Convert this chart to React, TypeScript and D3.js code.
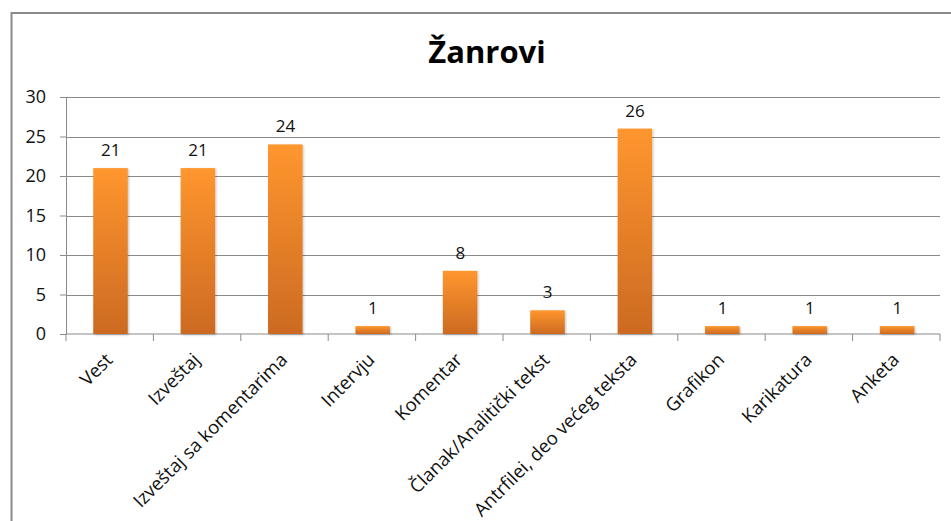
import React, { useEffect, useRef } from 'react';
import * as d3 from 'd3';

// Žanrovi - column chart

const categories = [
  'Vest',
  'Izveštaj',
  'Izveštaj sa komentarima',
  'Intervju',
  'Komentar',
  'Članak/Analitički tekst',
  'Antrfilei, deo većeg teksta',
  'Grafikon',
  'Karikatura',
  'Anketa',
];
const counts = [21, 21, 24, 1, 8, 3, 26, 1, 1, 1];
const yTicks = [0, 5, 10, 15, 20, 25, 30];
const title = 'Žanrovi';

const App = () => {
  const svgRef = useRef<SVGSVGElement>(null);

  useEffect(() => {
    if (!svgRef.current) return;
    const svg = d3.select(svgRef.current);
    svg.selectAll('*').remove();

    const width = 951;
    const height = 521;
    const margin = { top: 97, right: 11, bottom: 187, left: 66 };
    const font = "'Open Sans', sans-serif";

    // gradient for the bars
    const defs = svg.append('defs');
    const grad = defs.append('linearGradient')
      .attr('id', 'barGrad')
      .attr('x1', 0).attr('y1', 0).attr('x2', 0).attr('y2', 1);
    grad.append('stop').attr('offset', '0%').attr('stop-color', '#ff962e');
    grad.append('stop').attr('offset', '100%').attr('stop-color', '#cc6a22');

    const shadow = defs.append('filter').attr('id', 'barShadow')
      .attr('x', '-20%').attr('y', '-10%').attr('width', '150%').attr('height', '130%');
    shadow.append('feDropShadow')
      .attr('dx', 1).attr('dy', 1).attr('stdDeviation', 1.2)
      .attr('flood-color', '#000').attr('flood-opacity', 0.25);

    // outer frame
    svg.append('rect')
      .attr('x', 11.5).attr('y', 13)
      .attr('width', width + 20).attr('height', height + 20)
      .attr('fill', 'white')
      .attr('stroke', '#8a8a8a')
      .attr('stroke-width', 2);

    const x = d3.scaleBand<string>()
      .domain(categories)
      .range([margin.left, width - margin.right])
      .padding(0);

    const y = d3.scaleLinear()
      .domain([0, 30])
      .range([height - margin.bottom, margin.top]);

    // title
    svg.append('text')
      .attr('x', 487)
      .attr('y', 63)
      .attr('text-anchor', 'middle')
      .style('font-family', font)
      .style('font-weight', 'bold')
      .style('font-size', '31px')
      .attr('fill', '#000')
      .text(title);

    // grid + y axis
    const yAxis = svg.append('g')
      .attr('transform', `translate(${margin.left},0)`)
      .call(d3.axisLeft(y).tickValues(yTicks).tickSize(6).tickPadding(14));
    yAxis.select('.domain').attr('stroke', '#8a8a8a');
    yAxis.selectAll('.tick line').attr('stroke', '#8a8a8a');
    yAxis.selectAll('.tick text')
      .style('font-family', font)
      .style('font-size', '18px')
      .attr('fill', '#111');

    svg.append('g')
      .selectAll('line')
      .data(yTicks.filter(d => d > 0))
      .join('line')
      .attr('x1', margin.left)
      .attr('x2', width - margin.right)
      .attr('y1', d => Math.round(y(d)) + 0.5)
      .attr('y2', d => Math.round(y(d)) + 0.5)
      .attr('stroke', '#8a8a8a')
      .attr('stroke-width', 1);

    // x axis with ticks at category boundaries
    const xAxisY = y(0);
    const bounds = categories.map(c => x(c) as number).concat([x.range()[1]]);
    svg.append('line')
      .attr('x1', margin.left).attr('x2', width - margin.right)
      .attr('y1', xAxisY).attr('y2', xAxisY)
      .attr('stroke', '#8a8a8a');
    svg.append('g')
      .selectAll('line')
      .data(bounds)
      .join('line')
      .attr('x1', d => d).attr('x2', d => d)
      .attr('y1', xAxisY).attr('y2', xAxisY + 7)
      .attr('stroke', '#8a8a8a');

    // bars
    const barW = x.bandwidth() * 0.395;
    svg.append('g')
      .selectAll('rect')
      .data(counts)
      .join('rect')
      .attr('x', (d, i) => (x(categories[i]) as number) + x.bandwidth() / 2 - barW / 2 + 0.8)
      .attr('y', d => y(d))
      .attr('width', barW)
      .attr('height', d => y(0) - y(d))
      .attr('fill', 'url(#barGrad)')
      .attr('filter', 'url(#barShadow)');

    // data labels
    svg.append('g')
      .selectAll('text')
      .data(counts)
      .join('text')
      .attr('x', (d, i) => (x(categories[i]) as number) + x.bandwidth() / 2 + 1)
      .attr('y', d => y(d) - 12)
      .attr('text-anchor', 'middle')
      .style('font-family', font)
      .style('font-size', '17px')
      .attr('fill', '#111')
      .text(d => d);

    // category labels, rotated
    svg.append('g')
      .selectAll('text')
      .data(categories)
      .join('text')
      .attr('transform', d => {
        const cx = (x(d) as number) + x.bandwidth() / 2 + 4;
        return `translate(${cx},${xAxisY + 27}) rotate(-45)`;
      })
      .attr('text-anchor', 'end')
      .style('font-family', font)
      .style('font-size', '18.5px')
      .attr('fill', '#111')
      .text(d => d);
  }, []);

  return (
    <svg
      ref={svgRef}
      width={951}
      height={521}
      style={{ position: 'absolute', left: 0, top: 0, background: 'white' }}
    ></svg>
  );
};

export default App;
